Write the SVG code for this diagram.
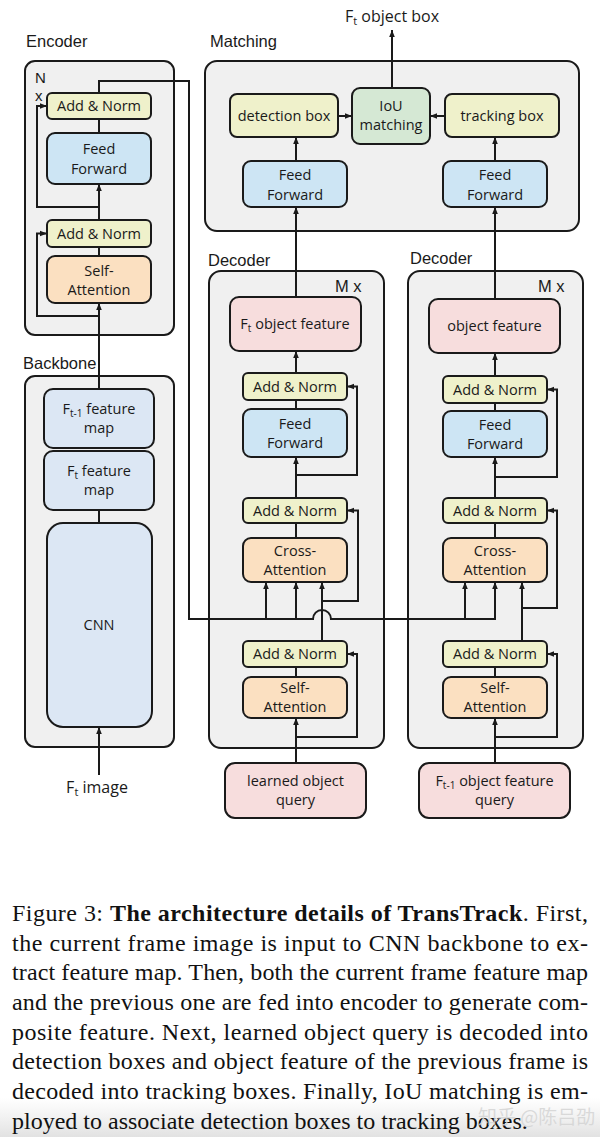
<svg xmlns="http://www.w3.org/2000/svg" width="600" height="1137" viewBox="0 0 600 1137">
<defs>
<marker id="ah" viewBox="0 0 8 8" refX="8" refY="4" markerWidth="7" markerHeight="7" markerUnits="userSpaceOnUse" orient="auto"><path d="M0,0.8 L8,4 L0,7.2 z" fill="#1a1a1a"/></marker>
<linearGradient id="fade" x1="0" y1="0" x2="0" y2="1"><stop offset="0" stop-color="#e6e6e6" stop-opacity="0"/><stop offset="1" stop-color="#e2e2e2" stop-opacity="1"/></linearGradient>
<style>
.grp{fill:#f0f0f0;stroke:#1a1a1a;stroke-width:2}
.an{fill:#eff1cb;stroke:#1a1a1a;stroke-width:2}
.ff{fill:#cde5f4;stroke:#1a1a1a;stroke-width:2}
.att{fill:#fbe0c1;stroke:#1a1a1a;stroke-width:2}
.obj{fill:#f7dddd;stroke:#1a1a1a;stroke-width:2}
.iou{fill:#d5e8d4;stroke:#1a1a1a;stroke-width:2}
.bb{fill:#dce7f4;stroke:#1a1a1a;stroke-width:2}
.t{font-family:"Open Sans","Noto Sans",sans-serif;font-size:14.5px;fill:#1a1a1a;text-anchor:middle}
.lbl{font-family:"Liberation Sans",Arial,sans-serif;font-size:16.5px;fill:#1a1a1a}
.io{font-family:"Open Sans","Noto Sans",sans-serif;font-size:16px;fill:#1a1a1a;text-anchor:middle}
.c{fill:none;stroke:#1a1a1a;stroke-width:2}
.a{marker-end:url(#ah)}
.cap{font-family:"Liberation Serif","Times New Roman",serif;font-size:24px;fill:#111}
</style>
</defs>
<rect width="600" height="1137" fill="#ffffff"/>

<!-- containers -->
<g id="encoder">
<rect class="grp" x="25" y="61" width="149" height="274" rx="10"/>
<text class="lbl" x="26" y="47">Encoder</text>
<text class="lbl" x="35" y="83" style="font-size:15px">N</text>
<text class="lbl" x="35" y="101" style="font-size:15px">x</text>
</g>
<g id="backbone">
<rect class="grp" x="25" y="376" width="149" height="371" rx="10"/>
<text class="lbl" x="23" y="369">Backbone</text>
</g>
<g id="matching">
<rect class="grp" x="205" y="61" width="374" height="170" rx="12"/>
<text class="lbl" x="210" y="47">Matching</text>
</g>
<g id="decoder-left">
<rect class="grp" x="209" y="271" width="175" height="477" rx="12"/>
<text class="lbl" x="208" y="266">Decoder</text>
<text class="lbl" x="335" y="292">M x</text>
</g>
<g id="decoder-right">
<rect class="grp" x="408" y="271" width="175" height="477" rx="12"/>
<text class="lbl" x="410" y="264">Decoder</text>
<text class="lbl" x="538" y="292">M x</text>
</g>

<!-- connectors -->
<g id="connectors">
<path class="c a" d="M99,389 V303"/>
<path class="c a" d="M99,316 H37 V233.5 H47"/>
<path class="c" d="M99,256 V247"/>
<path class="c a" d="M99,220 V184"/>
<path class="c a" d="M99,207 H37 V106 H47"/>
<path class="c" d="M99,133 V119"/>
<path class="c a" d="M99,93 V81 H189 V619 H313 A9,9 0 0 1 331,619 H495 V582"/>
<path class="c" d="M99,510 V523"/>
<path class="c a" d="M99,775 V727"/>

<path class="c a" d="M266,619 V582"/>
<path class="c a" d="M296,619 V582"/>
<path class="c a" d="M322,641 V582"/>
<path class="c a" d="M322,601 H358 V510.5 H347"/>
<path class="c" d="M296,538 V523"/>
<path class="c a" d="M296,498 V457"/>
<path class="c a" d="M296,475 H357 V386.5 H347"/>
<path class="c" d="M296,409 V400"/>
<path class="c a" d="M296,373 V351"/>
<path class="c a" d="M296,297 V207"/>
<path class="c a" d="M296,161 V137"/>
<path class="c a" d="M296,763 V718"/>
<path class="c a" d="M296,737 H357 V654 H347"/>
<path class="c" d="M296,677 V667"/>

<path class="c a" d="M465,619 V582"/>
<path class="c a" d="M522,641 V582"/>
<path class="c a" d="M522,608 H557 V510.5 H547"/>
<path class="c" d="M495,538 V523"/>
<path class="c a" d="M495,498 V457"/>
<path class="c a" d="M495,477 H557 V389.5 H547"/>
<path class="c" d="M495,411 V403"/>
<path class="c a" d="M495,376 V353"/>
<path class="c a" d="M495,299 V207"/>
<path class="c a" d="M495,161 V137"/>
<path class="c a" d="M495,763 V718"/>
<path class="c a" d="M495,737 H557 V654 H547"/>
<path class="c" d="M495,677 V667"/>

<path class="c a" d="M338,116 H352"/>
<path class="c a" d="M445,116 H430"/>
<path class="c a" d="M392,88 V30"/>
</g>

<!-- encoder nodes -->
<g id="enc-addnorm-2"><rect class="an" x="47" y="93" width="104" height="26" rx="5"/><text class="t" x="99" y="111">Add &amp; Norm</text></g>
<g id="enc-ff"><rect class="ff" x="47" y="133" width="104" height="51" rx="8"/><text class="t" x="99" y="154">Feed</text><text class="t" x="99" y="174">Forward</text></g>
<g id="enc-addnorm-1"><rect class="an" x="47" y="220" width="104" height="27" rx="5"/><text class="t" x="99" y="238.5">Add &amp; Norm</text></g>
<g id="enc-self-attn"><rect class="att" x="47" y="256" width="104" height="47" rx="8"/><text class="t" x="99" y="275.5">Self-</text><text class="t" x="99" y="294.5">Attention</text></g>

<!-- backbone nodes -->
<g id="ft1-feature-map"><rect class="bb" x="44" y="389" width="110" height="59" rx="9"/><text class="t" x="99" y="414">F<tspan font-size="10" dy="3">t-1</tspan><tspan dy="-3"> feature</tspan></text><text class="t" x="99" y="433">map</text></g>
<g id="ft-feature-map"><rect class="bb" x="44" y="451" width="110" height="59" rx="9"/><text class="t" x="99" y="476">F<tspan font-size="10" dy="3">t</tspan><tspan dy="-3"> feature</tspan></text><text class="t" x="99" y="495">map</text></g>
<g id="cnn"><rect class="bb" x="47" y="523" width="105" height="204" rx="16"/><text class="t" x="99" y="630">CNN</text></g>
<g id="ft-image"><text class="io" x="97" y="793">F<tspan font-size="11" dy="3">t</tspan><tspan dy="-3"> image</tspan></text></g>

<!-- matching nodes -->
<g id="detection-box"><rect class="an" x="230" y="94" width="108" height="43" rx="7"/><text class="t" x="284" y="120.5">detection box</text></g>
<g id="iou-matching"><rect class="iou" x="352" y="88" width="78" height="56" rx="8"/><text class="t" x="391" y="111">IoU</text><text class="t" x="391" y="130">matching</text></g>
<g id="tracking-box"><rect class="an" x="445" y="94" width="114" height="43" rx="7"/><text class="t" x="502" y="120.5">tracking box</text></g>
<g id="match-ff-left"><rect class="ff" x="243" y="161" width="104" height="46" rx="8"/><text class="t" x="295" y="179.5">Feed</text><text class="t" x="295" y="199.5">Forward</text></g>
<g id="match-ff-right"><rect class="ff" x="443" y="161" width="104" height="46" rx="8"/><text class="t" x="495" y="179.5">Feed</text><text class="t" x="495" y="199.5">Forward</text></g>
<g id="ft-object-box"><text class="io" x="392" y="22">F<tspan font-size="11" dy="3">t</tspan><tspan dy="-3"> object box</tspan></text></g>

<!-- left decoder nodes -->
<g id="ft-object-feature"><rect class="obj" x="230" y="297" width="131" height="54" rx="9"/><text class="t" x="295" y="329">F<tspan font-size="10" dy="3">t</tspan><tspan dy="-3"> object feature</tspan></text></g>
<g id="dl-addnorm-3"><rect class="an" x="243" y="373" width="104" height="27" rx="5"/><text class="t" x="295" y="391.5">Add &amp; Norm</text></g>
<g id="dl-ff"><rect class="ff" x="243" y="409" width="104" height="48" rx="8"/><text class="t" x="295" y="428.5">Feed</text><text class="t" x="295" y="447.5">Forward</text></g>
<g id="dl-addnorm-2"><rect class="an" x="243" y="498" width="104" height="25" rx="5"/><text class="t" x="295" y="515.5">Add &amp; Norm</text></g>
<g id="dl-cross-attn"><rect class="att" x="243" y="538" width="104" height="44" rx="8"/><text class="t" x="295" y="555.5">Cross-</text><text class="t" x="295" y="574.5">Attention</text></g>
<g id="dl-addnorm-1"><rect class="an" x="243" y="641" width="104" height="26" rx="5"/><text class="t" x="295" y="659">Add &amp; Norm</text></g>
<g id="dl-self-attn"><rect class="att" x="243" y="677" width="104" height="41" rx="8"/><text class="t" x="295" y="693">Self-</text><text class="t" x="295" y="712">Attention</text></g>
<g id="learned-object-query"><rect class="obj" x="225" y="763" width="141" height="55" rx="10"/><text class="t" x="295.5" y="786">learned object</text><text class="t" x="295.5" y="805">query</text></g>

<!-- right decoder nodes -->
<g id="object-feature"><rect class="obj" x="429" y="299" width="131" height="54" rx="9"/><text class="t" x="494.5" y="331">object feature</text></g>
<g id="dr-addnorm-3"><rect class="an" x="443" y="376" width="104" height="27" rx="5"/><text class="t" x="495" y="394.5">Add &amp; Norm</text></g>
<g id="dr-ff"><rect class="ff" x="443" y="411" width="104" height="46" rx="8"/><text class="t" x="495" y="429.5">Feed</text><text class="t" x="495" y="448.5">Forward</text></g>
<g id="dr-addnorm-2"><rect class="an" x="443" y="498" width="104" height="25" rx="5"/><text class="t" x="495" y="515.5">Add &amp; Norm</text></g>
<g id="dr-cross-attn"><rect class="att" x="443" y="538" width="104" height="44" rx="8"/><text class="t" x="495" y="555.5">Cross-</text><text class="t" x="495" y="574.5">Attention</text></g>
<g id="dr-addnorm-1"><rect class="an" x="443" y="641" width="104" height="26" rx="5"/><text class="t" x="495" y="659">Add &amp; Norm</text></g>
<g id="dr-self-attn"><rect class="att" x="443" y="677" width="104" height="41" rx="8"/><text class="t" x="495" y="693">Self-</text><text class="t" x="495" y="712">Attention</text></g>
<g id="ft1-object-feature-query"><rect class="obj" x="419" y="763" width="151" height="55" rx="10"/><text class="t" x="494.5" y="786">F<tspan font-size="10" dy="3">t-1</tspan><tspan dy="-3"> object feature</tspan></text><text class="t" x="494.5" y="805">query</text></g>

<!-- caption -->
<rect x="0" y="1098" width="600" height="39" fill="url(#fade)"/>
<g id="caption">
<text class="cap" x="12" y="921" textLength="576" lengthAdjust="spacing">Figure 3: <tspan font-weight="bold">The architecture details of TransTrack</tspan>. First,</text>
<text class="cap" x="12" y="951" textLength="576" lengthAdjust="spacing">the current frame image is input to CNN backbone to ex-</text>
<text class="cap" x="12" y="980" textLength="576" lengthAdjust="spacing">tract feature map. Then, both the current frame feature map</text>
<text class="cap" x="12" y="1010" textLength="576" lengthAdjust="spacing">and the previous one are fed into encoder to generate com-</text>
<text class="cap" x="12" y="1040" textLength="576" lengthAdjust="spacing">posite feature.  Next, learned object query is decoded into</text>
<text class="cap" x="12" y="1069" textLength="576" lengthAdjust="spacing">detection boxes and object feature of the previous frame is</text>
<text class="cap" x="12" y="1099" textLength="576" lengthAdjust="spacing">decoded into tracking boxes. Finally, IoU matching is em-</text>
<text class="cap" x="12" y="1129">ployed to associate detection boxes to tracking boxes.</text>
<text x="478" y="1124" font-family="'Noto Sans CJK SC',sans-serif" font-size="19" fill="#d4d4d4" fill-opacity="0.85">知乎 @陈吕劭</text>
</g>
</svg>
